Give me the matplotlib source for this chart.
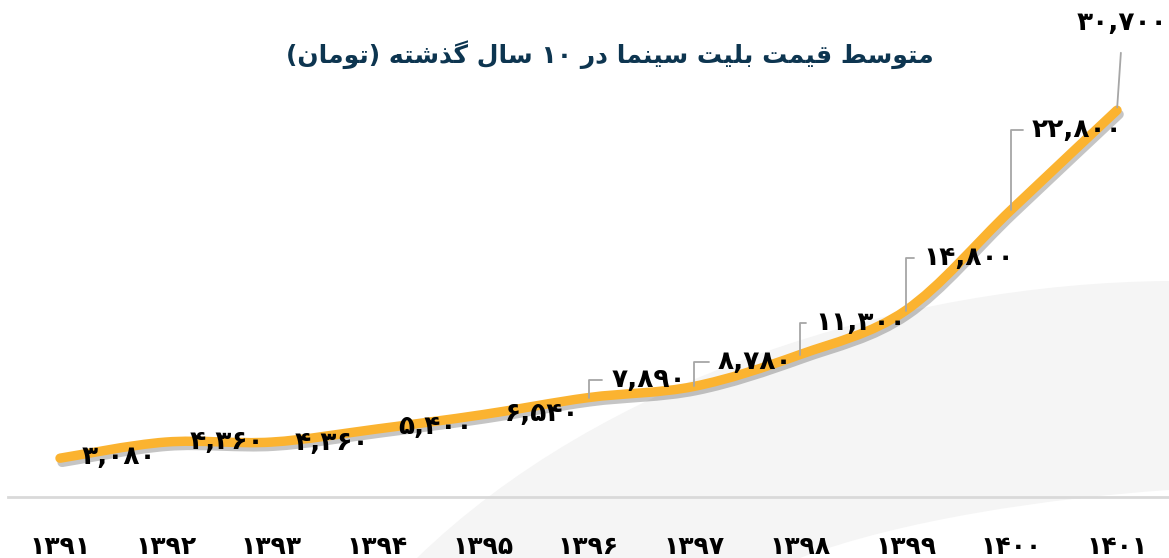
import matplotlib
matplotlib.use('Agg')
import matplotlib.pyplot as plt
import matplotlib.patheffects as pe
from matplotlib.path import Path
from matplotlib.patches import PathPatch
from matplotlib.transforms import Affine2D
import numpy as np

years = ['۱۳۹۱', '۱۳۹۲', '۱۳۹۳', '۱۳۹۴', '۱۳۹۵', '۱۳۹۶', '۱۳۹۷', '۱۳۹۸', '۱۳۹۹', '۱۴۰۰', '۱۴۰۱']
prices = [3080, 4360, 4360, 5400, 6540, 7890, 8780, 11300, 14800, 22800, 30700]
price_labels = ['۳,۰۸۰', '۴,۳۶۰', '۴,۳۶۰', '۵,۴۰۰', '۶,۵۴۰', '۷,۸۹۰', '۸,۷۸۰',
                '۱۱,۳۰۰', '۱۴,۸۰۰', '۲۲,۸۰۰', '۳۰,۷۰۰']
title = 'متوسط قیمت بلیت سینما در ۱۰ سال گذشته (تومان)'

# label offsets in pixels (dx, dy) and whether a leader line is drawn
label_off = [(59, 1), (61, 0), (61, -1), (58, 2), (59, 1), (60, 18), (61, 24),
             (61, 32), (63, 53), (66, 80), (5, 87)]
leader = [False] * 5 + [True] * 5 + [False]

# --- tiny arabic/persian shaper (matplotlib has no complex text layout) ---
FORMS = {  # isolated, final, initial, medial
    'ا': ('\uFE8D', '\uFE8E', None, None),
    'ب': ('\uFE8F', '\uFE90', '\uFE91', '\uFE92'),
    'ت': ('\uFE95', '\uFE96', '\uFE97', '\uFE98'),
    'د': ('\uFEA9', '\uFEAA', None, None),
    'ذ': ('\uFEAB', '\uFEAC', None, None),
    'ر': ('\uFEAD', '\uFEAE', None, None),
    'س': ('\uFEB1', '\uFEB2', '\uFEB3', '\uFEB4'),
    'ش': ('\uFEB5', '\uFEB6', '\uFEB7', '\uFEB8'),
    'ط': ('\uFEC1', '\uFEC2', '\uFEC3', '\uFEC4'),
    'ق': ('\uFED5', '\uFED6', '\uFED7', '\uFED8'),
    'ل': ('\uFEDD', '\uFEDE', '\uFEDF', '\uFEE0'),
    'م': ('\uFEE1', '\uFEE2', '\uFEE3', '\uFEE4'),
    'ن': ('\uFEE5', '\uFEE6', '\uFEE7', '\uFEE8'),
    'ه': ('\uFEE9', '\uFEEA', '\uFEEB', '\uFEEC'),
    'و': ('\uFEED', '\uFEEE', None, None),
    'ی': ('\uFBFC', '\uFBFD', '\uFBFE', '\uFBFF'),
    'گ': ('\uFB92', '\uFB93', '\uFB94', '\uFB95'),
}

def shape(s):
    out = []
    for i, c in enumerate(s):
        if c not in FORMS:
            out.append(c)
            continue
        p = s[i - 1] if i > 0 else ''
        n = s[i + 1] if i + 1 < len(s) else ''
        jp = p in FORMS and FORMS[p][2] is not None
        jn = FORMS[c][2] is not None and n in FORMS
        f = FORMS[c]
        out.append(f[3] if jp and jn else f[1] if jp else f[2] if jn else f[0])
    vis = ''.join(out)[::-1]
    # digits keep left-to-right order, brackets mirror
    res, run = [], ''
    for c in vis:
        if '\u06F0' <= c <= '\u06F9':
            run += c
        else:
            res.append(run[::-1]); run = ''
            res.append({'(': ')', ')': '('}.get(c, c))
    res.append(run[::-1])
    return ''.join(res)

W, H = 1169, 558
fig = plt.figure(figsize=(W / 100, H / 100), dpi=100)
px = Affine2D().scale(1 / W, -1 / H).translate(0, 1) + fig.transFigure

# light grey swoosh in the background
bg = Path([(417, 558), (600, 380), (900, 283), (1169, 281), (1169, 490),
           (1050, 498), (900, 520), (800, 558), (417, 558)],
          [Path.MOVETO, Path.CURVE4, Path.CURVE4, Path.CURVE4, Path.LINETO,
           Path.CURVE4, Path.CURVE4, Path.CURVE4, Path.CLOSEPOLY])
fig.add_artist(PathPatch(bg, facecolor='#f5f5f5', edgecolor='none', transform=px, zorder=-5))

scale = 0.0126  # px per toman
ax = fig.add_axes([8 / W, (H - 497) / H, 1 - 8 / W, 497 / H])
ax.patch.set_alpha(0)
step = 105.7
ax.set_xlim(-52 / step, (W - 8 - 52) / step)
ax.set_ylim(0, 497 / scale)

# smoothed line (catmull-rom as cubic bezier)
x = np.arange(len(prices), dtype=float)
y = np.array(prices, dtype=float)
P = np.column_stack([x, y])
Pe = np.vstack([P[0], P, P[-1]])
verts, codes = [P[0]], [Path.MOVETO]
for i in range(len(P) - 1):
    c1 = Pe[i + 1] + (Pe[i + 2] - Pe[i]) / 6
    c2 = Pe[i + 2] - (Pe[i + 3] - Pe[i + 1]) / 6
    verts += [c1, c2, Pe[i + 2]]
    codes += [Path.CURVE4] * 3
line = PathPatch(Path(verts, codes), fill=False, edgecolor='#fbb330', lw=6.8,
                 capstyle='round', joinstyle='round', zorder=3)
line.set_path_effects([pe.SimpleLineShadow(offset=(1.5, -3), shadow_color='#404040', alpha=0.3),
                       pe.Normal()])
ax.add_patch(line)

for i, (lab, (dx, dy)) in enumerate(zip(price_labels, label_off)):
    kw = {}
    if leader[i]:
        kw['arrowprops'] = dict(arrowstyle='-', color='#a6a6a6', lw=1.3, relpos=(0, 0.5),
                                shrinkA=4.5, shrinkB=0,
                                connectionstyle='angle,angleA=180,angleB=90,rad=0')
    elif i == len(prices) - 1:
        kw['arrowprops'] = dict(arrowstyle='-', color='#a6a6a6', lw=1.3, relpos=(0.5, 0),
                                shrinkA=10, shrinkB=2)
    ax.annotate(lab, xy=(i, prices[i]), xytext=(dx, dy), textcoords='offset pixels',
                ha='center', va='center', fontsize=19, fontweight='bold', color='black',
                zorder=5, annotation_clip=False, **kw)

for s in ['top', 'left', 'right']:
    ax.spines[s].set_visible(False)
ax.spines['bottom'].set_color('#d9d9d9')
ax.spines['bottom'].set_linewidth(2)
ax.set_yticks([])
ax.set_xticks(x)
ax.set_xticklabels(years, fontsize=18, fontweight='bold')
ax.tick_params(axis='x', length=0, pad=27)

fig.text(610 / W, 1 - 55 / H, shape(title), ha='center', va='center',
         fontsize=18, fontweight='bold', color='#0d3550')

fig.savefig('out.png', dpi=100)
